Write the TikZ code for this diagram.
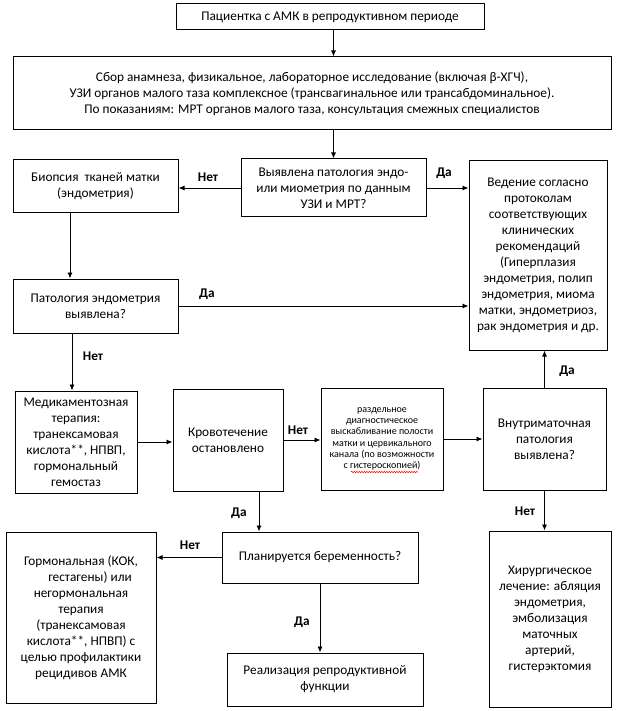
\documentclass[tikz,border=0pt]{standalone}
\usepackage{fontspec}
\setmainfont{Carlito}
\usetikzlibrary{arrows.meta,calc,decorations.pathmorphing}
\begin{document}
\begin{tikzpicture}[x=1pt,y=-1pt,
  box/.style={draw=black, line width=1pt, inner sep=2pt, align=center,
    font=\fontsize{13.3}{16}\selectfont, anchor=center},
  arr/.style={line width=0.9pt, -{Latex[length=6pt,width=5pt]}},
  lbl/.style={font=\fontsize{13.3}{16}\selectfont\bfseries, inner sep=0pt},
  smalltext/.style={font=\fontsize{10}{11.3}\selectfont}
]
\useasboundingbox (0,0) rectangle (617,711);

\node[box, minimum width=308pt, minimum height=26pt] (b1) at (330,17)
  {Пациентка с АМК в репродуктивном периоде};
\node[box, minimum width=598pt, minimum height=73pt] (b2) at (312,93.5)
  {Сбор анамнеза, физикальное, лабораторное исследование (включая β-ХГЧ),\\
   УЗИ органов малого таза комплексное (трансвагинальное или трансабдоминальное).\\
   По показаниям: МРТ органов малого таза, консультация смежных специалистов};
\node[box, minimum width=185pt, minimum height=58pt] (b3) at (333.5,188)
  {Выявлена патология эндо-\\или миометрия по данным\\УЗИ и МРТ?};
\node[box, minimum width=165pt, minimum height=53pt] (b4) at (95.5,186.5)
  {Биопсия\ \ тканей матки\\(эндометрия)};
\node[box, minimum width=138pt, minimum height=189pt] (b5) at (538,255.5)
  {Ведение согласно\\протоколам\\соответствующих\\клинических\\рекомендаций\\(Гиперплазия\\эндометрия, полип\\эндометрия, миома\\матки, эндометриоз,\\рак эндометрия и др.};
\node[box, minimum width=165pt, minimum height=54pt] (b6) at (95.5,306)
  {Патология эндометрия\\выявлена?};
\node[box, minimum width=122pt, minimum height=102pt] (b7) at (76,442)
  {Медикаментозная\\терапия:\\транексамовая\\кислота**, НПВП,\\гормональный\\гемостаз};
\node[box, minimum width=110pt, minimum height=102pt] (b8) at (228,440)
  {Кровотечение\\остановлено};
\node[box, smalltext, minimum width=122pt, minimum height=102pt] (b9) at (382,439)
  {раздельное\\диагностическое\\выскабливание полости\\матки и цервикального\\канала (по возможности\\с гистероскопией)};
\node[box, minimum width=123pt, minimum height=102pt] (b10) at (544.5,439)
  {Внутриматочная\\патология\\выявлена?};
\node[box, minimum width=196pt, minimum height=51pt] (b11) at (320,557.5)
  {Планируется беременность?};
\node[box, minimum width=150pt, minimum height=171pt] (b12) at (81,617.5)
  {Гормональная (КОК,\\\hspace*{18pt}гестагены) или\\негормональная\\терапия\\(транексамовая\\кислота**, НПВП) с\\целью профилактики\\рецидивов АМК};
\node[box, minimum width=196pt, minimum height=53pt] (b13) at (325,679.5)
  {Реализация репродуктивной\\функции};
\node[box, minimum width=122pt, minimum height=176pt] (b14) at (550,619)
  {Хирургическое\\лечение: абляция\\эндометрия,\\эмболизация\\маточных\\артерий,\\гистерэктомия};

% spell-check wave under "гистероскопией"
\draw[red, line width=0.5pt, decorate, decoration={snake, amplitude=0.7pt, segment length=2.5pt}]
  ($(b9.center)+(-31,33)$) coordinate (w1) -- ($(b9.center)+(36,33)$) coordinate (w2);

% connectors
\draw[arr] (b1.south -| b3.north) -- (b2.north -| b3.north);
\draw[arr] (b2.south -| b3.north) -- (b3.north);
\draw[arr] (b3.west) -- (b3.west -| b4.east);
\draw[arr] (b3.east) -- (b3.east -| b5.west);
\draw[arr] ([xshift=-25.5pt]b4.south) -- ([xshift=-25.5pt]b4.south |- b6.north);
\draw[arr] (b6.east) -- (b6.east -| b5.west);
\draw[arr] ([xshift=-23.5pt]b6.south) -- ([xshift=-23.5pt]b6.south |- b7.north);
\draw[arr] (b7.east) -- (b7.east -| b8.west);
\draw[arr] (b8.east) -- (b8.east -| b9.west);
\draw[arr] (b9.east) -- (b9.east -| b10.west);
\draw[arr] (b10.north) -- (b10.north |- b5.south);
\draw[arr] ([xshift=31pt]b8.south) -- ([xshift=31pt]b8.south |- b11.north);
\draw[arr] (b11.west) -- (b11.west -| b12.east);
\draw[arr] (b11.south) -- (b11.south |- b13.north);
\draw[arr] (b10.south) -- (b10.south |- b14.north);

% labels
\node[lbl] (l1) at (208,177) {Нет};
\node[lbl] (l2) at (444,173) {Да};
\node[lbl] (l3) at (207,294) {Да};
\node[lbl] (l4) at (93,356) {Нет};
\node[lbl] (l5) at (298,430) {Нет};
\node[lbl] (l6) at (567,371) {Да};
\node[lbl] (l7) at (239,513) {Да};
\node[lbl] (l8) at (190,545) {Нет};
\node[lbl] (l9) at (302,622) {Да};
\node[lbl] (l10) at (525,511) {Нет};
\end{tikzpicture}
\end{document}
